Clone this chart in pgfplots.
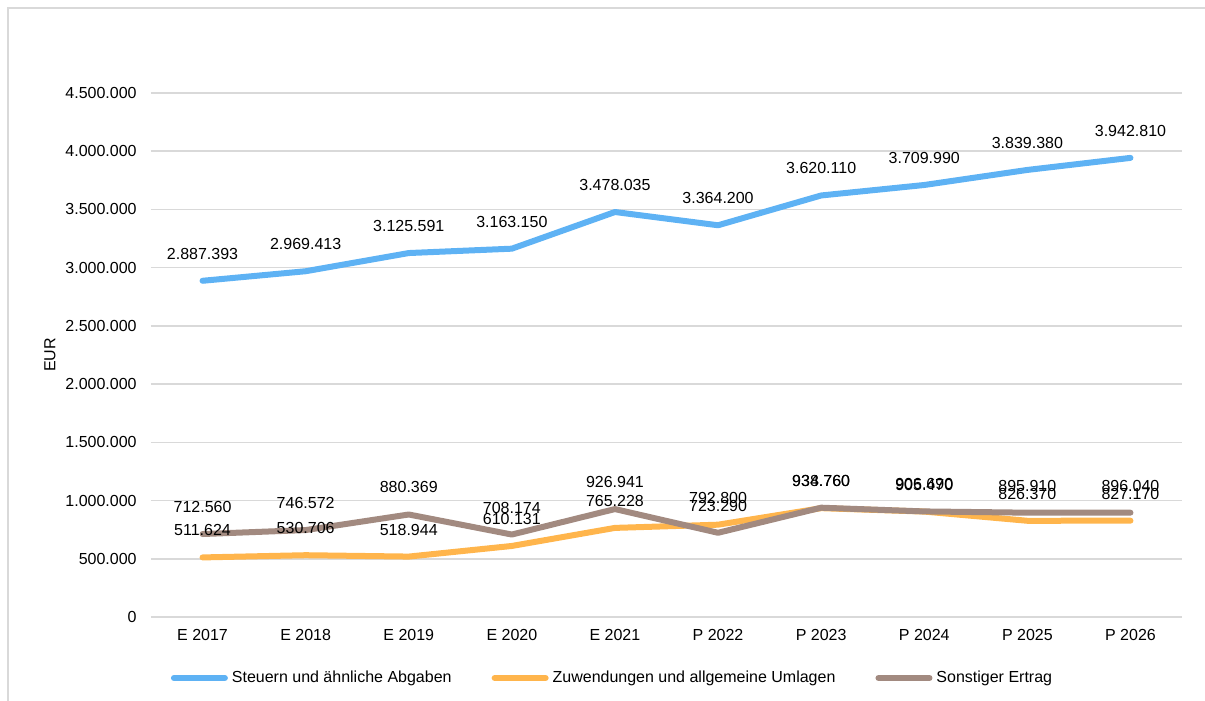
\documentclass[border=0pt]{standalone}
\usepackage{pgfplots}
\pgfplotsset{compat=1.18}
\usepackage{fontspec}
\setmainfont{Liberation Sans}
\definecolor{cblue}{RGB}{94,178,244}
\definecolor{corange}{RGB}{255,181,76}
\definecolor{cbrown}{RGB}{162,138,128}
\definecolor{cgrid}{RGB}{217,217,217}
\begin{document}
\begin{tikzpicture}[font=\fontsize{8}{9.6}\selectfont]
\useasboundingbox (0,0) rectangle (602.5pt,-350.5pt);
\draw[cgrid, line width=0.6pt] (4pt,-350.5pt) -- (4pt,-4pt) -- (602.5pt,-4pt);
\begin{axis}[
  at={(75.5pt,-308.5pt)}, anchor=south west,
  scale only axis, width=515.5pt, height=262pt,
  xmin=-0.5, xmax=9.5, ymin=0, ymax=4500000,
  xtick={0,1,2,3,4,5,6,7,8,9},
  xticklabels={E 2017,E 2018,E 2019,E 2020,E 2021,P 2022,P 2023,P 2024,P 2025,P 2026},
  ytick={0,500000,1000000,1500000,2000000,2500000,3000000,3500000,4000000,4500000},
  scaled y ticks=false,
  yticklabel={\pgfmathprintnumber[fixed,precision=0,1000 sep={.},assume math mode=true]{\tick}},
  yticklabel style={anchor=east, inner sep=0pt, xshift=-7pt},
  xticklabel style={anchor=center, inner sep=0pt, yshift=-9pt},
  axis line style={draw=none},
  major tick length=0pt,
  ymajorgrids,
  major grid style={cgrid, line width=0.75pt},
  ylabel={EUR},
  every axis y label/.style={at={(axis description cs:-0.098,0.5)}, rotate=90, anchor=center},
  point meta=explicit symbolic,
  nodes near coords,
  every node near coord/.append style={anchor=center, yshift=13.5pt, text=black, inner sep=0pt},
  legend columns=3,
  legend style={at={(0.4486,-0.1164)}, anchor=center, draw=none, fill=none,
    /tikz/every even column/.append style={column sep=18pt}},
  legend image code/.code={\draw[#1, line cap=round] (0pt,0pt) -- (25.5pt,0pt);},
  every axis plot/.append style={line width=3pt, line join=round, line cap=round, mark=none},
]
\addplot[cblue] table[meta=l] {
x y l
0 2887393 2.887.393
1 2969413 2.969.413
2 3125591 3.125.591
3 3163150 3.163.150
4 3478035 3.478.035
5 3364200 3.364.200
6 3620110 3.620.110
7 3709990 3.709.990
8 3839380 3.839.380
9 3942810 3.942.810
};
\addlegendentry{Steuern und ähnliche Abgaben}
\addplot[corange] table[meta=l] {
x y l
0 511624 511.624
1 530706 530.706
2 518944 518.944
3 610131 610.131
4 765228 765.228
5 792800 792.800
6 934760 934.760
7 905470 905.470
8 826370 826.370
9 827170 827.170
};
\addlegendentry{Zuwendungen und allgemeine Umlagen}
\addplot[cbrown] table[meta=l] {
x y l
0 712560 712.560
1 746572 746.572
2 880369 880.369
3 708174 708.174
4 926941 926.941
5 723290 723.290
6 938760 938.760
7 906690 906.690
8 895910 895.910
9 896040 896.040
};
\addlegendentry{Sonstiger Ertrag}
\end{axis}
\end{tikzpicture}
\end{document}
